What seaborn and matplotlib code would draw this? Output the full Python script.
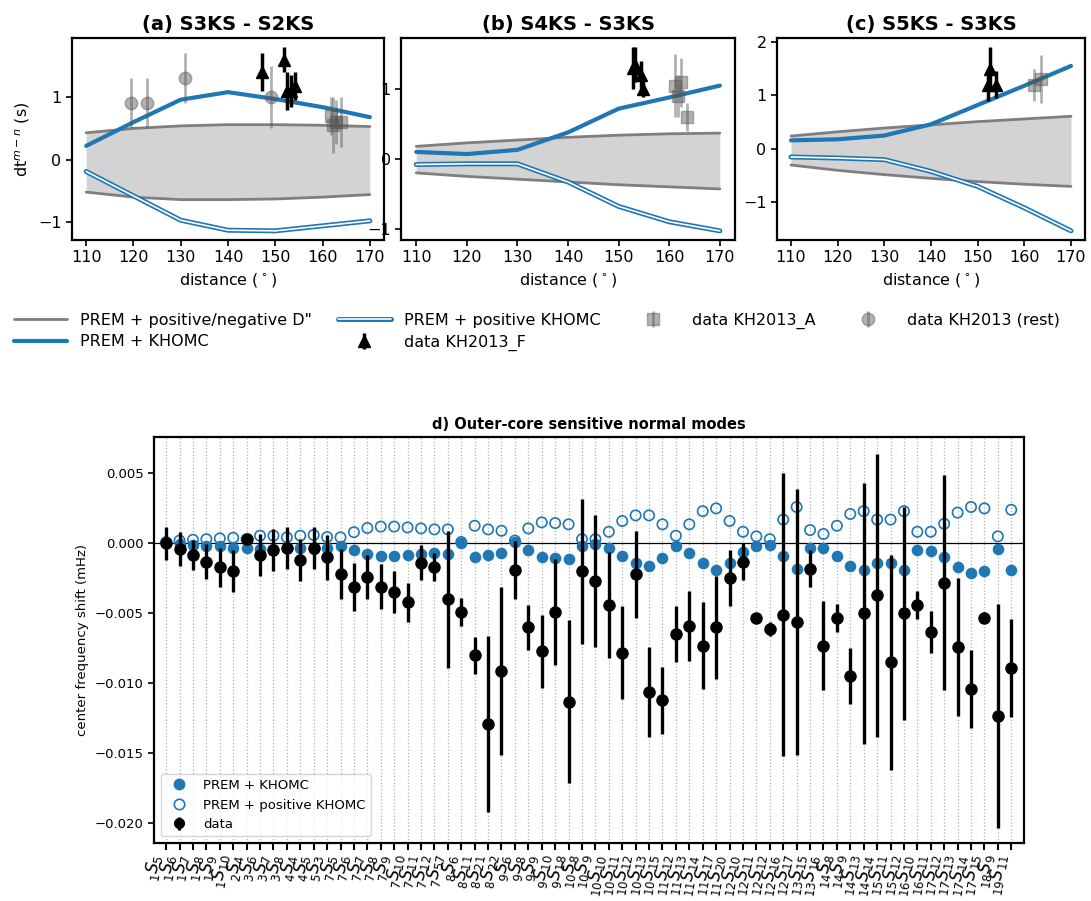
import matplotlib
matplotlib.use("Agg")
import matplotlib.pyplot as plt
import matplotlib.patheffects as pe
from matplotlib.lines import Line2D
from matplotlib.ticker import MultipleLocator
import seaborn as sns

sns.set_style("ticks")
plt.rcParams['font.family'] = ['DejaVu Sans']
plt.rcParams.update({'text.color': 'black', 'axes.labelcolor': 'black',
                     'xtick.color': 'black', 'ytick.color': 'black'})

BLUE = '#1f77b4'
GREY = '#7f7f7f'

# ---------------- differential travel times (panels a-c) ----------------
distance = [110, 120, 130, 140, 150, 160, 170]

# (a) S3KS - S2KS
a_dpp_pos = [0.43, 0.50, 0.54, 0.56, 0.56, 0.55, 0.53]
a_dpp_neg = [-0.52, -0.60, -0.64, -0.64, -0.63, -0.60, -0.56]
a_khomc = [0.22, 0.60, 0.96, 1.08, 0.97, 0.84, 0.68]
a_khomc_pos = [-0.19, -0.58, -0.97, -1.13, -1.14, -1.06, -0.98]
a_F_dist = [147.2, 151.9, 152.4, 153.3, 154.1]
a_F_dt = [1.40, 1.60, 1.10, 1.10, 1.18]
a_F_err = [0.30, 0.20, 0.30, 0.25, 0.22]
a_A_dist = [161.8, 162.3, 162.8, 163.8]
a_A_dt = [0.70, 0.55, 0.60, 0.60]
a_A_err = [0.30, 0.45, 0.35, 0.40]
a_rest_dist = [119.5, 122.8, 130.8, 149.1]
a_rest_dt = [0.90, 0.90, 1.30, 1.00]
a_rest_err = [0.40, 0.40, 0.40, 0.50]

# (b) S4KS - S3KS
b_dpp_pos = [0.18, 0.23, 0.27, 0.31, 0.34, 0.36, 0.37]
b_dpp_neg = [-0.20, -0.25, -0.29, -0.33, -0.37, -0.40, -0.43]
b_khomc = [0.10, 0.07, 0.13, 0.38, 0.72, 0.88, 1.05]
b_khomc_pos = [-0.08, -0.07, -0.07, -0.33, -0.68, -0.90, -1.03]
b_F_dist = [152.9, 153.3, 154.5, 154.9]
b_F_dt = [1.30, 1.35, 1.20, 1.00]
b_F_err = [0.30, 0.25, 0.20, 0.12]
b_A_dist = [161.2, 161.8, 162.4, 163.6]
b_A_dt = [1.05, 0.90, 1.10, 0.60]
b_A_err = [0.45, 0.30, 0.35, 0.20]

# (c) S5KS - S3KS
c_dpp_pos = [0.24, 0.32, 0.39, 0.45, 0.51, 0.56, 0.61]
c_dpp_neg = [-0.30, -0.40, -0.48, -0.55, -0.61, -0.66, -0.70]
c_khomc = [0.16, 0.18, 0.25, 0.46, 0.82, 1.18, 1.55]
c_khomc_pos = [-0.15, -0.17, -0.20, -0.42, -0.70, -1.10, -1.53]
c_F_dist = [152.2, 152.6, 154.0]
c_F_dt = [1.20, 1.50, 1.20]
c_F_err = [0.30, 0.40, 0.25]
c_A_dist = [162.0, 163.6]
c_A_dt = [1.20, 1.30]
c_A_err = [0.30, 0.45]

# ---------------- normal modes (panel d) ----------------
mode_n = [1, 1, 1, 1, 1, 1, 2, 3, 3, 3, 4, 4, 5, 7, 7, 7, 7, 7, 7, 7, 7, 7,
          8, 8, 8, 8, 9, 9, 9, 9, 9, 10, 10, 10, 10, 10, 10, 10, 11, 11, 11,
          11, 11, 12, 12, 12, 12, 12, 13, 13, 14, 14, 14, 14, 15, 15, 16, 16,
          17, 17, 17, 17, 18, 19]
mode_l = [5, 6, 7, 8, 9, 10, 4, 6, 7, 8, 4, 5, 3, 5, 6, 7, 8, 9, 10, 11, 12, 57,
          6, 11, 21, 22, 6, 8, 9, 10, 18, 8, 9, 10, 11, 12, 13, 15, 12, 13, 14,
          17, 20, 10, 11, 12, 16, 17, 15, 16, 8, 9, 13, 14, 11, 12, 10, 11,
          12, 13, 14, 15, 9, 11]

shift_khomc = [0.0, -0.00005, -0.0001, -0.00017, -0.0002, -0.0003, -0.0003,
               -0.0004, -0.0004, -0.00036, -0.00036, -0.0004, -0.0003, -0.0002,
               -0.0005, -0.00076, -0.0009, -0.0009, -0.00083, -0.00076, -0.0007,
               -0.00076, 0.0, -0.00095, -0.00083, -0.0007, 0.0001, -0.0005,
               -0.001, -0.00105, -0.0011, -0.00017, -0.00005, -0.0003, -0.00088,
               -0.0014, -0.0016, -0.00107, -0.00017, -0.0007, -0.0014, -0.0019,
               -0.0014, -0.0006, -0.0002, -0.0001, -0.0009, -0.0018, -0.00033,
               -0.00033, -0.0009, -0.0016, -0.0019, -0.0014, -0.0014, -0.0019,
               -0.00045, -0.00055, -0.00095, -0.0017, -0.0021, -0.002, -0.0004,
               -0.0019]
shift_khomc_pos = [0.0001, 0.0002, 0.00026, 0.0003, 0.00036, 0.0004, 0.0003,
                   0.00055, 0.00055, 0.00043, 0.00055, 0.0006, 0.00045, 0.00043,
                   0.0008, 0.0011, 0.0012, 0.0012, 0.00114, 0.00107, 0.001,
                   0.001, 0.0001, 0.00126, 0.001, 0.0009, 0.0002, 0.00107,
                   0.0015, 0.00145, 0.00136, 0.0003, 0.0003, 0.00083, 0.0016,
                   0.002, 0.002, 0.00136, 0.00055, 0.00136, 0.0023, 0.0025,
                   0.0016, 0.00083, 0.0005, 0.0003, 0.0017, 0.0026, 0.00095,
                   0.00067, 0.00126, 0.0021, 0.0023, 0.0017, 0.0017, 0.0023,
                   0.00083, 0.00083, 0.0014, 0.0022, 0.0026, 0.0025, 0.0005,
                   0.0024]
shift_data = [0.0, -0.0004, -0.00083, -0.0013, -0.0017, -0.002, 0.0003,
              -0.00083, -0.0005, -0.0003, -0.0012, -0.0003, -0.001, -0.0022,
              -0.0031, -0.0024, -0.0031, -0.0035, -0.0042, -0.0014, -0.0017,
              -0.004, -0.0049, -0.008, -0.0129, -0.0091, -0.0019, -0.006,
              -0.0077, -0.0049, -0.0113, -0.002, -0.0027, -0.0044, -0.0078,
              -0.0022, -0.0106, -0.0112, -0.0065, -0.0059, -0.0073, -0.006,
              -0.0025, -0.0013, -0.0053, -0.0061, -0.0051, -0.0056, -0.0018,
              -0.0073, -0.0053, -0.0095, -0.005, -0.0037, -0.0085, -0.005,
              -0.0044, -0.0063, -0.0028, -0.0074, -0.0104, -0.0053, -0.0123,
              -0.0089]
shift_err = [0.0012, 0.0012, 0.0011, 0.00125, 0.0014, 0.0015, 0.0, 0.0015,
             0.0015, 0.0015, 0.0015, 0.0015, 0.0016, 0.0018, 0.0017, 0.0016,
             0.0016, 0.0015, 0.0014, 0.00125, 0.001, 0.0049, 0.001, 0.0013,
             0.0063, 0.006, 0.0021, 0.0016, 0.0026, 0.0038, 0.0058, 0.0052,
             0.0047, 0.0038, 0.0033, 0.0031, 0.0032, 0.0024, 0.002, 0.0025,
             0.0031, 0.0037, 0.002, 0.0013, 0.0, 0.0005, 0.0101, 0.0095,
             0.0013, 0.0032, 0.001, 0.002, 0.0093, 0.0101, 0.0077, 0.0076,
             0.001, 0.0015, 0.0077, 0.0049, 0.0028, 0.0004, 0.008, 0.0035]

mode_labels = [r'$_{%d}S_{%d}$' % (n, l) for n, l in zip(mode_n, mode_l)]

# ---------------- figure ----------------
fig = plt.figure(figsize=(10.91, 9.01), dpi=100)

double_fx = [pe.Stroke(linewidth=3.6, foreground=BLUE), pe.Normal()]

top_panels = [
    ("(a) S3KS - S2KS", [0.066, 0.7336, 0.286, 0.2242],
     a_dpp_pos, a_dpp_neg, a_khomc, a_khomc_pos,
     (a_F_dist, a_F_dt, a_F_err), (a_A_dist, a_A_dt, a_A_err),
     (a_rest_dist, a_rest_dt, a_rest_err)),
    ("(b) S4KS - S3KS", [0.3676, 0.7336, 0.3061, 0.2242],
     b_dpp_pos, b_dpp_neg, b_khomc, b_khomc_pos,
     (b_F_dist, b_F_dt, b_F_err), (b_A_dist, b_A_dt, b_A_err), None),
    ("(c) S5KS - S3KS", [0.7122, 0.7336, 0.2823, 0.2242],
     c_dpp_pos, c_dpp_neg, c_khomc, c_khomc_pos,
     (c_F_dist, c_F_dt, c_F_err), (c_A_dist, c_A_dt, c_A_err), None),
]

legend_handles = None
for k, (title, rect, dpos, dneg, kh, khp, dF, dA, dR) in enumerate(top_panels):
    ax = fig.add_axes(rect)
    ax.fill_between(distance, dneg, dpos, color='#d3d3d3', lw=0, zorder=1)
    sns.lineplot(x=distance, y=dpos, ax=ax, color=GREY, lw=2, zorder=2)
    sns.lineplot(x=distance, y=dneg, ax=ax, color=GREY, lw=2, zorder=2)
    sns.lineplot(x=distance, y=kh, ax=ax, color=BLUE, lw=3, zorder=3)
    sns.lineplot(x=distance, y=khp, ax=ax, color='white', lw=1.2, zorder=3,
                 path_effects=double_fx)
    hR = None
    if dR is not None:
        hR = ax.errorbar(dR[0], dR[1], yerr=dR[2], fmt='o', color='#555555',
                         alpha=0.45, ms=9, elinewidth=2, zorder=4)
    hA = ax.errorbar(dA[0], dA[1], yerr=dA[2], fmt='s', color='#555555',
                     alpha=0.45, ms=9, elinewidth=2, zorder=4)
    hF = ax.errorbar(dF[0], dF[1], yerr=dF[2], fmt='^', color='black',
                     ms=9, elinewidth=2.5, zorder=5)
    ax.set_title(title, fontsize=14, fontweight='bold')
    ax.set_xlabel(r'distance ($^\circ$)', fontsize=11.5)
    if k == 0:
        ax.set_ylabel(r'dt$^{m-n}$ (s)', fontsize=11.5)
        legend_handles = (hA, hR, hF)
    ax.set_xticks(distance)
    ax.yaxis.set_major_locator(MultipleLocator(1))
    ax.tick_params(labelsize=11.5, width=1.2, length=4)
    for sp in ax.spines.values():
        sp.set_linewidth(1.6)
        sp.set_color('black')

hA, hR, hF = legend_handles
h_dpp = Line2D([], [], color=GREY, lw=2)
h_kh = Line2D([], [], color=BLUE, lw=3)
h_khp = Line2D([], [], color='white', lw=1.2, path_effects=double_fx)
fig.legend([h_dpp, h_kh, h_khp, hF, hA, hR],
           ['PREM + positive/negative D"', 'PREM + KHOMC',
            'PREM + positive KHOMC', 'data KH2013_F', 'data KH2013_A',
            'data KH2013 (rest)'],
           ncol=4, loc='lower left', bbox_to_anchor=(0.0, 0.595, 0.985, 0.06),
           mode='expand', frameon=False, fontsize=11.5, handlelength=3.3,
           labelspacing=0.4)

# ---------------- panel d ----------------
ax = fig.add_axes([0.1412, 0.0644, 0.7974, 0.4506])
idx = list(range(len(mode_labels)))
for i in idx:
    ax.axvline(i, color='#b0b0b0', ls=':', lw=0.9, zorder=0)
ax.axhline(0, color='black', lw=0.9, zorder=1)
sns.scatterplot(x=idx, y=shift_khomc, ax=ax, color=BLUE, s=70, linewidth=0,
                zorder=2)
sns.scatterplot(x=idx, y=shift_khomc_pos, ax=ax, facecolor='none',
                edgecolor=BLUE, s=55, linewidth=1.2, zorder=2)
ax.errorbar(idx, shift_data, yerr=shift_err, fmt='o', color='black', ms=8,
            elinewidth=2.4, zorder=3)
ax.set_xlim(-0.9, 63.95)
ax.set_ylim(-0.0214, 0.0076)
ax.yaxis.set_major_locator(MultipleLocator(0.005))
ax.set_xticks(idx)
ax.set_xticklabels(mode_labels, rotation=80, ha='right', fontsize=12)
ax.tick_params(axis='x', length=5, width=1.5, pad=2)
ax.tick_params(axis='y', length=4, width=1.2, labelsize=9.5)
ax.set_ylabel('center frequency shift (mHz)', fontsize=9.5)
ax.set_title('d) Outer-core sensitive normal modes', fontsize=10.5,
             fontweight='bold')
for sp in ax.spines.values():
    sp.set_linewidth(1.6)
    sp.set_color('black')

hd1 = Line2D([], [], ls='none', marker='o', color=BLUE, ms=7.5)
hd2 = Line2D([], [], ls='none', marker='o', mfc='none', mec=BLUE, ms=7.5, mew=1.2)
hd3 = ax.errorbar([], [], yerr=[], fmt='o', color='black', ms=7, elinewidth=2.4)
ax.legend([hd1, hd2, hd3], ['PREM + KHOMC', 'PREM + positive KHOMC', 'data'],
          loc='lower left', fontsize=9.5)

fig.savefig('out.png', dpi=100)
